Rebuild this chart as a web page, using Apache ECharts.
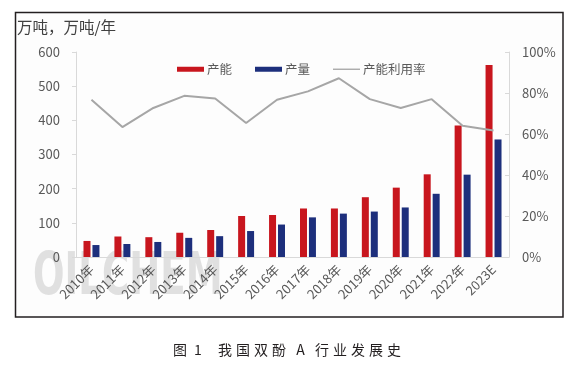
<!DOCTYPE html>
<html><head><meta charset="utf-8">
<script src="https://cdn.jsdelivr.net/npm/echarts@6/dist/echarts.min.js"></script>
<style>html,body{margin:0;padding:0;background:#fff;}#c{width:575px;height:371px;}</style>
</head><body><div id="c"></div>
<script>
var categories = ['2010年','2011年','2012年','2013年','2014年','2015年','2016年','2017年','2018年','2019年','2020年','2021年','2022年','2023E'];
var capacity = [47, 60, 58, 71, 79, 120, 123, 142, 142, 175, 203, 242, 385, 562];
var output = [35, 38, 44, 56, 61, 76, 95, 116, 127, 133, 145, 185, 241, 344];
var utilization = [76.7, 63.4, 72.7, 78.6, 77.3, 65.4, 76.7, 80.8, 87.2, 77, 72.7, 77, 64, 61.7];
var leftTicks = [0, 100, 200, 300, 400, 500, 600];
var rightTicks = [0, 20, 40, 60, 80, 100];
var captionParts = [['图','c'],['1','c'],[' ','s'],['我','c'],['国','c'],['双','c'],['酚','c'],['A','a'],['行','c'],['业','c'],['发','c'],['展','c'],['史','c']];

var font = '"Noto Sans CJK SC", "Noto Sans", sans-serif';
var captionText = captionParts.map(function (p) { return '{' + p[1] + '|' + p[0] + '}'; }).join('');
var chart = echarts.init(document.getElementById('c'), null, {renderer: 'canvas'});
chart.setOption({
  backgroundColor: '#ffffff',
  animation: false,
  textStyle: {fontFamily: font},
  title: {
    text: captionText,
    left: 166, top: 338,
    textStyle: {
      fontSize: 14, fontWeight: 'normal', color: '#231f20', fontFamily: font,
      rich: {
        c: {width: 18, align: 'center', fontSize: 14, color: '#231f20', fontFamily: font},
        a: {width: 25, align: 'center', fontSize: 14, color: '#231f20', fontFamily: font},
        s: {width: 9, fontSize: 14}
      }
    }
  },
  graphic: [
    {type: 'rect', z: -10, shape: {x: 15.5, y: 12.5, width: 547.5, height: 304.5},
     style: {fill: '#fdfdfd', stroke: '#231f20', lineWidth: 1.5}},
    {type: 'text', z: -5, left: 17, top: 19,
     style: {text: '万吨，万吨/年', font: '15.5px ' + font, fill: '#404040'}},
    {type: 'text', z: -5, x: 33, y: 250, scaleX: 0.64,
     style: {text: 'OILCHEM', font: 'bold 58px "DejaVu Sans", sans-serif', fill: 'rgba(200,200,200,0.55)'}}
  ],
  legend: {
    top: 58, left: 172,
    itemWidth: 27, itemHeight: 5, itemGap: 23,
    textStyle: {fontSize: 12.5, color: '#595959', fontFamily: font, padding: [0, 0, 0, -2]},
    data: [
      {name: '产能', icon: 'rect'},
      {name: '产量', icon: 'rect'},
      {name: '产能利用率', icon: 'path://M0,0 L10,0 L10,0.5 L0,0.5 Z', itemStyle: {color: '#a6a6a6'}}
    ]
  },
  grid: {left: 76, right: 66, top: 52, bottom: 114},
  xAxis: {
    type: 'category', data: categories,
    axisLine: {lineStyle: {color: '#d9d9d9', width: 1}},
    axisTick: {show: false},
    axisLabel: {rotate: 45, fontSize: 13, color: '#595959', margin: 10, interval: 0, fontFamily: font}
  },
  yAxis: [
    {type: 'value', min: leftTicks[0], max: leftTicks[leftTicks.length - 1], interval: 100,
     axisLine: {show: true, lineStyle: {color: '#d9d9d9'}},
     axisTick: {show: true, length: 4, lineStyle: {color: '#d9d9d9'}},
     splitLine: {show: false},
     axisLabel: {fontSize: 13, color: '#595959', margin: 16, fontFamily: font}},
    {type: 'value', min: rightTicks[0], max: rightTicks[rightTicks.length - 1], interval: 20,
     axisLine: {show: true, lineStyle: {color: '#d9d9d9'}},
     axisTick: {show: true, inside: true, length: 4, lineStyle: {color: '#d9d9d9'}},
     splitLine: {show: false},
     axisLabel: {fontSize: 13, color: '#595959', margin: 13, formatter: '{value}%', fontFamily: font}}
  ],
  series: [
    {name: '产能', type: 'bar', data: capacity, barWidth: 7, barGap: '28%',
     itemStyle: {color: '#c8161e'}},
    {name: '产量', type: 'bar', data: output, barWidth: 7,
     itemStyle: {color: '#1d2f7c'}},
    {name: '产能利用率', type: 'line', yAxisIndex: 1, data: utilization,
     showSymbol: false, symbol: 'none', lineStyle: {color: '#a6a6a6', width: 2},
     itemStyle: {color: '#a6a6a6'}}
  ]
});
</script></body></html>
